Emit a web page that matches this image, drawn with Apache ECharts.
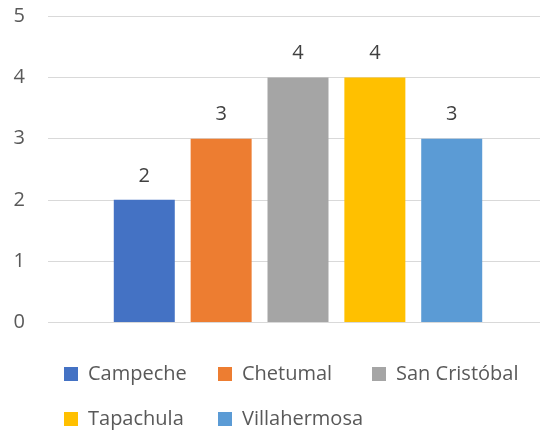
<!DOCTYPE html>
<html>
<head>
<meta charset="utf-8">
<script src="https://cdn.jsdelivr.net/npm/echarts@6/dist/echarts.min.js"></script>
<style>
  html, body { margin: 0; padding: 0; background: #fff; }
  #chart { width: 540px; height: 434px; }
</style>
</head>
<body>
<div id="chart"></div>
<script>
// datos
const cities = ['Campeche', 'Chetumal', 'San Cristóbal', 'Tapachula', 'Villahermosa'];
const values = [2, 3, 4, 4, 3];
const colors = ['#4472C4', '#ED7D31', '#A5A5A5', '#FFC000', '#5B9BD5'];
const legendRow1 = cities.slice(0, 3);
const legendRow2 = cities.slice(3);

const font = 'Open Sans, Liberation Sans, sans-serif';
const myChart = echarts.init(document.getElementById('chart'));

const series = cities.map((name, i) => ({
  name: name,
  type: 'bar',
  data: [values[i]],
  barWidth: 61,
  barGap: '26%',
  itemStyle: { color: colors[i] },
  label: {
    show: true,
    position: 'top',
    distance: 14,
    color: '#404040',
    fontSize: 20,
    fontFamily: font
  }
}));

// leyenda en dos filas, columnas fijas como en Excel
const legendBase = {
  left: 64,
  padding: 0,
  itemWidth: 14,
  itemHeight: 14,
  itemGap: 0,
  icon: 'rect',
  textStyle: {
    color: '#595959', fontSize: 20, fontFamily: font,
    width: 130, lineHeight: 20, padding: [0, 0, 0, 5]
  }
};

const option = {
  animation: false,
  color: colors,
  // el área de trazado sigue un poco más allá del borde derecho
  grid: { left: 48, top: 16.5, width: 500, bottom: 112, outerBoundsMode: 'none' },
  xAxis: {
    type: 'category',
    data: [''],
    axisLine: { show: false },
    axisTick: { show: false },
    axisLabel: { show: false }
  },
  yAxis: {
    type: 'value',
    min: 0,
    max: 5,
    interval: 1,
    axisLine: { show: false },
    axisTick: { show: false },
    axisLabel: { color: '#595959', fontSize: 20, fontFamily: font, margin: 23 },
    splitLine: { lineStyle: { color: '#D9D9D9', width: 1 } }
  },
  legend: [
    Object.assign({}, legendBase, { top: 364, data: legendRow1 }),
    Object.assign({}, legendBase, { top: 409, data: legendRow2 })
  ],
  series: series
};
myChart.setOption(option);
</script>
</body>
</html>
